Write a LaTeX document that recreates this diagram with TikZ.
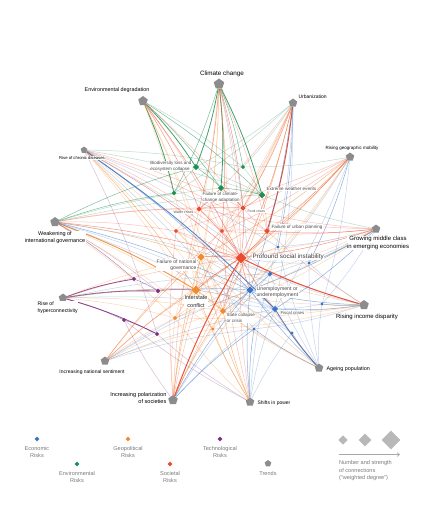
\documentclass[tikz,border=0pt]{standalone}
\usepackage{fontspec}
\setmainfont{Liberation Sans}
\usetikzlibrary{shapes.geometric,backgrounds,arrows.meta}
\definecolor{eco}{HTML}{3A74C4}
\definecolor{env}{HTML}{1F8F55}
\definecolor{geo}{HTML}{F28A2E}
\definecolor{soc}{HTML}{EB4A2F}
\definecolor{tec}{HTML}{7D2E80}
\definecolor{trd}{HTML}{8C8C8C}
\definecolor{lab}{HTML}{4A4A4A}
\definecolor{leg}{HTML}{7A7A7A}
\tikzset{
  tr/.style={regular polygon, regular polygon sides=5, fill=trd, draw=none, inner sep=0, minimum size=#1},
  rk/.style 2 args={diamond, fill=#1, draw=none, inner sep=0, minimum width=#2, minimum height=#2},
  tl/.style 2 args={font=\fontsize{#1}{#2}\selectfont, inner sep=0.4pt, text=black, fill=white},
  rl/.style 2 args={font=\fontsize{#1}{#2}\selectfont, inner sep=0.4pt, text=lab, fill=white},
  gl/.style={font=\fontsize{5.6}{7.6}\selectfont, inner sep=0, text=leg, align=center},
  E/.style={line width=0.5pt, opacity=0.58},
  eo/.style={E, draw=geo}, eoL/.style={eo, opacity=0.33}, eoS/.style={eo, opacity=0.9, line width=0.9pt},
  er/.style={E, draw=soc}, erL/.style={er, opacity=0.33}, erS/.style={er, opacity=0.95, line width=1pt},
  eb/.style={E, draw=eco}, ebL/.style={eb, opacity=0.3}, ebS/.style={eb, opacity=0.85, line width=0.9pt},
  eg/.style={E, draw=env}, egL/.style={eg, opacity=0.3}, egS/.style={eg, opacity=0.85, line width=0.8pt},
  ep/.style={E, draw=tec}, epL/.style={ep, opacity=0.3}, epS/.style={ep, opacity=0.85, line width=0.8pt},
}
\begin{document}
\begin{tikzpicture}[x=1pt,y=-1pt]
\path[use as bounding box] (0,0) rectangle (432,532);

% ---------- trends ----------
\node[tr=11] (cc)  at (219,84)  {};
\node[tr=10] (ed)  at (143,101) {};
\node[tr=9]  (ur)  at (293,103) {};
\node[tr=7]  (rcd) at (84,150)  {};
\node[tr=9]  (rgm) at (350,157) {};
\node[tr=10] (wig) at (55,222)  {};
\node[tr=9]  (gmc) at (376,229) {};
\node[tr=9]  (rh)  at (63,298)  {};
\node[tr=10] (rid) at (364,305) {};
\node[tr=9]  (ins) at (105,361) {};
\node[tr=10] (ips) at (173,400) {};
\node[tr=9]  (ap)  at (319,368) {};
\node[tr=9]  (sp)  at (250,402) {};

% ---------- environmental ----------
\node[rk={env}{6.5}] (bio)  at (196,167) {};
\node[rk={env}{6.5}] (fcca) at (221,188) {};
\node[rk={env}{7}]   (ewe)  at (262,195) {};
\node[rk={env}{5}]   (g1)   at (174,193) {};
\node[rk={env}{4.5}] (g2)   at (243,167) {};
% ---------- societal ----------
\node[rk={soc}{5.5}] (wc)   at (199,209) {};
\node[rk={soc}{5.5}] (fc)   at (243,208) {};
\node[rk={soc}{6}]   (fup)  at (267,231) {};
\node[rk={soc}{11}]  (psi)  at (241,258) {};
\node[rk={soc}{4.5}] (r1)   at (222,231) {};
\node[rk={soc}{4.5}] (r2)   at (176,231) {};
% ---------- geopolitical ----------
\node[rk={geo}{7.5}] (fng)  at (201,257) {};
\node[rk={geo}{9}]   (ic)   at (196,290) {};
\node[rk={geo}{6.5}] (scc)  at (223,311) {};
\node[rk={geo}{4.5}] (o1)   at (175,318) {};
\node[rk={geo}{3.5}] (o2)   at (213,329) {};
% ---------- economic ----------
\node[rk={eco}{7.5}] (un)   at (250,290) {};
\node[rk={eco}{6.5}] (fis)  at (275,309) {};
\node[rk={eco}{3.5}] (b1)   at (278,247) {};
\node[rk={eco}{3.5}] (b2)   at (309,263) {};
\node[rk={eco}{5}]   (b3)   at (270,274) {};
\node[rk={eco}{3.5}] (b4)   at (322,304) {};
\node[rk={eco}{3.5}] (b5)   at (254,329) {};
\node[rk={eco}{3.5}] (b6)   at (292,333) {};
% ---------- technological ----------
\node[rk={tec}{4.5}] (t1)   at (134,279) {};
\node[rk={tec}{5}]   (t2)   at (158,291) {};
\node[rk={tec}{4.5}] (t3)   at (124,320) {};
\node[rk={tec}{4.5}] (t4)   at (157,334) {};

% ---------- connectors ----------
\begin{scope}[on background layer]
\foreach \a/\b/\s in {
 cc/bio/egS, cc/fcca/egS, cc/ewe/egS, cc/g1/eg, cc/g2/eg, cc/wc/er, cc/fc/er, cc/psi/erL, cc/fup/erL, cc/ic/eoL, cc/r1/er, cc/un/ebL, cc/fng/eoL, cc/scc/eoL, cc/o1/eoL,
 ed/bio/egS, ed/g1/egS, ed/fcca/eg, ed/ewe/eg, ed/g2/egL, ed/wc/er, ed/fc/erL, ed/psi/er, ed/r1/erL, ed/ic/eoL, ed/fng/eoL, ed/scc/eoL,
 ur/fup/erS, ur/psi/er, ur/wc/erL, ur/fc/er, ur/g2/egL, ur/bio/egL, ur/g1/egL, ur/scc/eo, ur/fng/eoL, ur/ic/eoL, ur/un/eb, ur/fis/ebL, ur/b1/eb, ur/b3/ebL, ur/r1/erL, ur/o1/eoL,
 rcd/psi/er, rcd/fc/erL, rcd/fup/erL, rcd/un/eb, rcd/fis/ebS, rcd/ic/eo, rcd/fng/eoL, rcd/scc/eoL, rcd/b3/ebL, rcd/ewe/egL, rcd/g2/egL, rcd/t4/epL, rcd/r1/erL, rcd/b1/ebL, rcd/o2/eoL, rcd/b5/ebL,
 rgm/ic/eo, rgm/fng/eo, rgm/scc/eoL, rgm/o1/eoL, rgm/o2/eoL, rgm/psi/er, rgm/fup/erL, rgm/wc/erL, rgm/un/ebL, rgm/fis/ebL, rgm/b2/eb, rgm/b4/ebL, rgm/g2/egL, rgm/r2/erL, rgm/r1/erL,
 wig/bio/eg, wig/g1/eg, wig/fcca/egL, wig/ewe/egL, wig/ic/eoS, wig/fng/eo, wig/scc/eoL, wig/o1/eoL, wig/un/eb, wig/fis/ebL, wig/b3/ebL, wig/psi/er, wig/r2/erL, wig/t1/ep, wig/t2/epL, wig/wc/erL, wig/b6/ebL, wig/fc/erL, wig/o2/eoL,
 gmc/un/eb, gmc/fis/eb, gmc/b1/ebL, gmc/b2/eb, gmc/b3/ebL, gmc/b4/ebL, gmc/ic/eoL, gmc/fng/eoL, gmc/psi/er, gmc/fup/er, gmc/fc/erL, gmc/wc/erL, gmc/ewe/egL, gmc/scc/eoL, gmc/r1/erL, gmc/o1/eoL,
 rh/t1/epS, rh/t2/epS, rh/t3/ep, rh/t4/epS, rh/ic/eo, rh/fng/eoL, rh/scc/eoL, rh/un/ebL, rh/b3/ebL, rh/psi/erL, rh/o1/eoL, rh/fis/ebL,
 rid/psi/erS, rid/un/eb, rid/fis/eb, rid/b4/eb, rid/b2/ebL, rid/b3/ebL, rid/b5/ebL, rid/ic/eoL, rid/scc/eoL, rid/fng/eoL, rid/fup/erL, rid/r2/erL, rid/o2/eoL, rid/o1/eoL,
 ins/ic/eo, ins/fng/eo, ins/scc/eoL, ins/o1/eoL, ins/o2/eoL, ins/un/ebL, ins/fis/ebL, ins/psi/erL, ins/b5/ebL, ins/b3/ebL, ins/r1/erL,
 ips/ic/eo, ips/fng/eo, ips/scc/eo, ips/o1/eoL, ips/o2/eoL, ips/psi/erS, ips/r1/erL, ips/un/eb, ips/fis/ebL, ips/b5/eb, ips/t3/epL, ips/wc/erL, ips/fup/erL, ips/b3/ebL, ips/r2/erL,
 ap/fis/ebS, ap/un/eb, ap/b5/eb, ap/b6/eb, ap/b4/ebL, ap/b3/ebL, ap/scc/eoL, ap/ic/eoL, ap/psi/erL, ap/b1/ebL, ap/b2/ebL, ap/fng/eoL,
 sp/ic/eo, sp/fng/eo, sp/scc/eo, sp/o2/eoL, sp/un/eb, sp/fis/ebL, sp/b5/eb, sp/b6/ebL, sp/t4/epL, sp/t3/epL, sp/psi/erL, sp/o1/eoL, sp/b3/ebL, sp/r1/erL,
 bio/fcca/eg, bio/ewe/egL, fcca/ewe/eg, g1/bio/egL, g2/ewe/egL, fcca/wc/er, fcca/fc/er, ewe/fc/er, wc/fc/erL, wc/psi/er, fc/psi/er, fup/psi/er, fng/psi/er, ic/psi/er, un/psi/er, fis/psi/erL, scc/psi/er,
 ic/fng/eo, ic/scc/eo, fng/scc/eoL, un/fis/eb, un/scc/eb, ic/un/ebL, t1/t2/ep, t2/ic/ep, t3/t4/ep, r1/psi/er, r2/psi/erL, b1/psi/erL, b3/un/eb, b2/psi/ebL, b4/fis/ebL, b5/fis/ebL, b6/un/ebL,
 o1/ic/eoL, o2/scc/eoL, fup/fc/erL, r2/wc/erL, r2/fng/eoL, r1/fup/erL, ewe/fup/erL, fcca/psi/erL, ic/fis/ebL, fng/un/ebL, wc/r1/erL, fc/r1/erL}
 { \draw[\s] (\a) to[bend left=5] (\b); }
\end{scope}

% ---------- trend labels ----------
\node[tl={6.3}{7.5}, anchor=south] (Lcc) at (222,77) {Climate change};
\node[tl={5.4}{6.5}] (Led) at (117,90) {Environmental degradation};
\node[tl={5}{6}, anchor=west] (Lur) at (298,97) {Urbanization};
\node[tl={4.2}{5}] (Lrcd) at (82,158) {Rise of chronic diseases};
\node[tl={4.5}{5.4}] (Lrgm) at (352,148) {Rising geographic mobility};
\node[tl={5.5}{7}, anchor=north, align=center] (Lwig) at (55,231) {Weakening of\\international governance};
\node[tl={6}{7.8}, anchor=north, align=center] (Lgmc) at (378,236) {Growing middle class\\in emerging economies};
\node[tl={5.2}{7}, anchor=north west, align=left] (Lrh) at (37,301) {Rise of\\hyperconnectivity};
\node[tl={6}{7}] (Lrid) at (367,317) {Rising income disparity};
\node[tl={5}{6}] (Lins) at (92,372) {Increasing national sentiment};
\node[tl={5.6}{7}, anchor=east, align=right] (Lips) at (167,398) {Increasing polarization\\of societies};
\node[tl={5.4}{6}, anchor=west] (Lap) at (326,369) {Ageing population};
\node[tl={5}{6}, anchor=west] (Lsp) at (257,403) {Shifts in power};

% ---------- risk labels ----------
\node[rl={4.5}{5.8}, anchor=east, align=left] (Lbio) at (192,166) {Biodiversity loss and\\ecosystem collapse};
\node[rl={4.5}{5.8}, anchor=north west, align=left] (Lfcca) at (202,191.5) {Failure of climate-\\change adaptation};
\node[rl={4.6}{5.5}, anchor=west] (Lewe) at (266,189) {Extreme weather events};
\node[rl={3.6}{4.5}, anchor=east] (Lwc) at (194,212.5) {Water crises};
\node[rl={3.4}{4.5}, anchor=west] (Lfc) at (247,211) {Food crises};
\node[rl={4.6}{5.5}, anchor=west] (Lfup) at (271,227) {Failure of urban planning};
\node[tl={6.3}{7.5}, anchor=west, text=lab!80!black] (Lpsi) at (252,257) {Profound social instability};
\node[rl={5}{6.5}, anchor=north east, align=right] (Lfng) at (197,259) {Failure of national\\governance};
\node[rl={5.5}{7.2}, anchor=north, align=center, text=black!85] (Lic) at (196,295.5) {Interstate\\conflict};
\node[rl={4.5}{5.8}, anchor=north west, align=left] (Lscc) at (226,312.5) {State collapse\\or crisis};
\node[rl={5.2}{6.2}, anchor=west, align=left] (Lun) at (256,292) {Unemployment or\\underemployment};
\node[rl={4.3}{5.2}, anchor=west] (Lfis) at (280,312.5) {Fiscal crises};

% ---------- legend ----------
\node[rk={eco}{5}] (keco) at (37,439) {};
\node[gl, anchor=north] (leco) at (37,446) {Economic\\Risks};
\node[rk={env}{5}] (kenv) at (77,464) {};
\node[gl, anchor=north] (lenv) at (77,471) {Environmental\\Risks};
\node[rk={geo}{5}] (kgeo) at (128,439) {};
\node[gl, anchor=north] (lgeo) at (128,446) {Geopolitical\\Risks};
\node[rk={soc}{5}] (ksoc) at (170,464) {};
\node[gl, anchor=north] (lsoc) at (170,471) {Societal\\Risks};
\node[rk={tec}{5}] (ktec) at (220,439) {};
\node[gl, anchor=north] (ltec) at (220,446) {Technological\\Risks};
\node[tr=7] (ktrd) at (268,463.5) {};
\node[gl, anchor=north] (ltrd) at (268,471) {Trends};
\node[rk={black!28}{9.5}] (ks1) at (343,440) {};
\node[rk={black!28}{13}]  (ks2) at (365,440) {};
\node[rk={black!28}{19}]  (ks3) at (391,440) {};
\coordinate (ka) at (339,454.5);
\coordinate (kb) at (400,454.5);
\draw[black!35, line width=0.6pt, -{Straight Barb[length=2.5pt,width=4pt]}] (ka) -- (kb);
\node[gl, anchor=north west, align=left] (lsz) at (339,460.5) {Number and strength\\of connections\\(“weighted degree”)};
\end{tikzpicture}
\end{document}
